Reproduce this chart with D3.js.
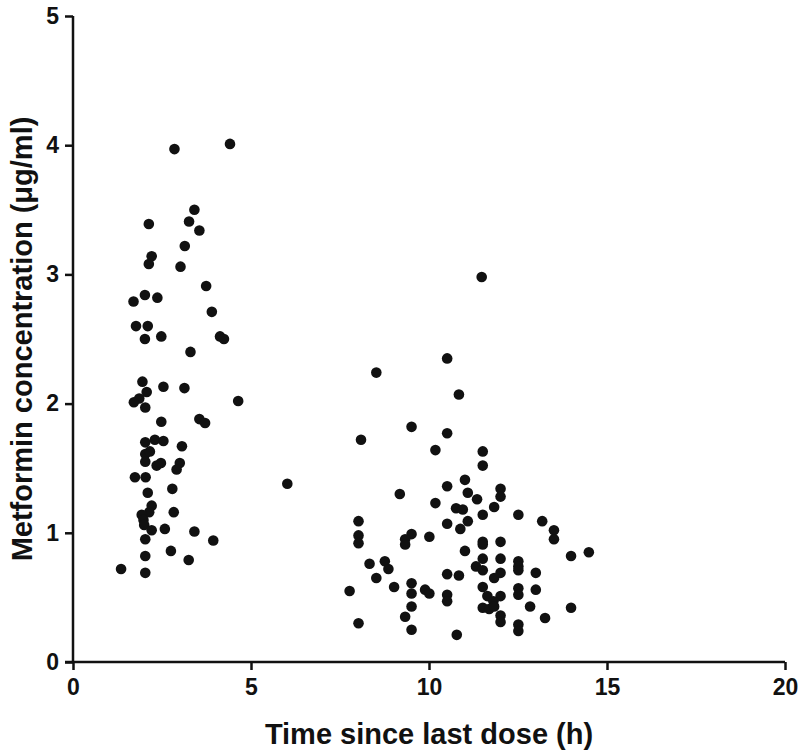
<!DOCTYPE html>
<html><head><meta charset="utf-8">
<script src="https://cdn.jsdelivr.net/npm/d3@7"></script>
<style>body{margin:0;background:#fff}</style>
</head><body>
<svg id="c" width="800" height="750"></svg>
<script>
const xTicks = [0, 5, 10, 15, 20];
const yTicks = [0, 1, 2, 3, 4, 5];
const xTitle = "Time since last dose (h)";
const yTitle = "Metformin concentration (μg/ml)";

// Time since last dose (h)
const timeEarly = [2.85,4.41,3.41,3.26,3.55,2.13,3.14,2.21,2.13,3.02,3.74,1.70,2.02,2.37,3.90,
1.77,2.10,2.02,2.48,4.13,4.24,3.30,1.95,2.54,3.13,2.07,1.86,1.71,2.03,4.64,2.48,3.55,3.71,2.03,2.30,2.54,3.06,2.03,2.16,2.03,2.35,2.47,3.00,2.91,1.74,2.04,2.10,2.79,
6.02,2.21,2.14,1.93,2.83,1.98,2.00,2.21,2.58,3.41,3.94,2.03,2.03,2.75,3.25,1.35,2.03];
const concEarly = [3.97,4.01,3.50,3.41,3.34,3.39,3.22,3.14,3.08,3.06,2.91,2.79,2.84,2.82,2.71,
2.60,2.60,2.50,2.52,2.52,2.50,2.40,2.17,2.13,2.12,2.09,2.04,2.01,1.97,2.02,1.86,1.88,1.85,1.70,1.72,1.71,1.67,1.61,1.63,1.55,1.52,1.54,1.54,1.49,1.43,1.43,1.31,1.34,
1.38,1.21,1.16,1.14,1.16,1.10,1.06,1.02,1.03,1.01,0.94,0.95,0.82,0.86,0.79,0.72,0.69];

const timeLate = [10.51,8.52,10.84,9.51,8.09,10.51,10.18,11.51,11.51,11.01,10.51,11.09,12.01,12.01,9.18,11.35,10.18,10.76,10.95,11.83,11.48,
11.09,11.51,12.51,13.18,13.51,13.51,8.02,8.02,8.02,10.51,10.88,9.51,9.33,9.33,10.01,11.51,11.51,12.01,11.01,13.99,11.51,12.01,12.51,12.51,12.51,8.33,8.76,8.86,11.32,11.51,12.01,11.83,13.00,8.52,10.51,10.84,7.77,9.02,9.51,9.51,9.89,10.01,10.51,10.51,11.51,12.01,12.51,12.51,13.00,11.64,11.81,11.51,11.69,11.83,12.84,13.99,9.51,9.33,12.01,12.01,13.26,8.02,9.51,12.51,12.51,10.78,14.49];
const concLate = [2.35,2.24,2.07,1.82,1.72,1.77,1.64,1.63,1.52,1.41,1.36,1.31,1.34,1.28,1.30,1.26,1.23,1.19,1.18,1.20,2.98,
1.09,1.14,1.14,1.09,1.02,0.95,1.09,0.98,0.92,1.07,1.03,0.99,0.95,0.91,0.97,0.93,0.91,0.93,0.86,0.82,0.80,0.80,0.78,0.74,0.71,0.76,0.78,0.72,0.74,0.71,0.69,0.65,0.69,0.65,0.68,0.67,0.55,0.58,0.61,0.53,0.56,0.53,0.52,0.47,0.58,0.51,0.57,0.52,0.56,0.51,0.47,0.42,0.41,0.43,0.43,0.42,0.43,0.35,0.36,0.31,0.34,0.30,0.25,0.29,0.24,0.21,0.85];

const pts = timeEarly.map((t,i)=>({t, c: concEarly[i]}))
  .concat(timeLate.map((t,i)=>({t, c: concLate[i]})));

const svg = d3.select("#c");
const x = d3.scaleLinear().domain([0,20]).range([73,785]);
const y = d3.scaleLinear().domain([0,5]).range([662,16]);

const font = "'Liberation Sans', Arial, Helvetica, sans-serif";

const xAxis = svg.append("g").attr("transform","translate(0,662)")
  .call(d3.axisBottom(x).tickValues(xTicks).tickSize(8).tickPadding(9).tickFormat(d3.format("d")));
const yAxis = svg.append("g").attr("transform","translate(73,0)")
  .call(d3.axisLeft(y).tickValues(yTicks).tickSize(8).tickPadding(6).tickFormat(d3.format("d")));

[xAxis, yAxis].forEach(g=>{
  g.select(".domain").attr("stroke","#111").attr("stroke-width",2.5);
  g.selectAll(".tick line").attr("stroke","#111").attr("stroke-width",2.5);
  g.selectAll(".tick text").attr("fill","#111").style("font-family",font)
    .style("font-size","23px").style("font-weight","bold");
});
xAxis.select(".domain").attr("d", `M${x(0)-8},0H${x(20)}`);
yAxis.select(".domain").attr("d", `M0,${y(5)}V${y(0)}`);

svg.append("text").attr("x", (x(0)+x(20))/2).attr("y", 744)
  .attr("text-anchor","middle").attr("fill","#111")
  .style("font-family",font).style("font-size","29px").style("font-weight","bold")
  .text(xTitle);

svg.append("text").attr("transform",`translate(32,${(y(0)+y(5))/2}) rotate(-90)`)
  .attr("text-anchor","middle").attr("fill","#111")
  .style("font-family",font).style("font-size","29px").style("font-weight","bold")
  .text(yTitle);

svg.append("g").selectAll("circle").data(pts).join("circle")
  .attr("cx", d=>x(d.t)).attr("cy", d=>y(d.c)).attr("r",5.3)
  .attr("fill","#111");
</script>
</body></html>
